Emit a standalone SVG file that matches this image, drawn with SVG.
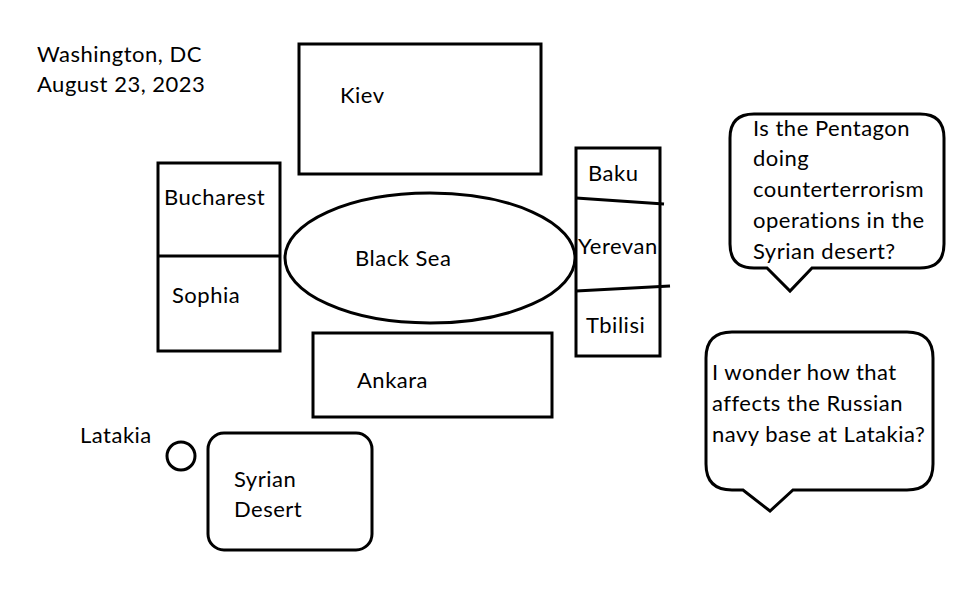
<svg xmlns="http://www.w3.org/2000/svg" width="966" height="608" viewBox="0 0 966 608">
<style>
.s{fill:#fff;stroke:#000;stroke-width:3}
.l{fill:none;stroke:#000;stroke-width:3}
text{font-family:Lato,"Liberation Sans",sans-serif;font-size:22px;letter-spacing:0.5px;fill:#000}
</style>
<rect width="966" height="608" fill="#fff"/>
<g id="title"><text x="37" y="62">Washington, DC</text><text x="37" y="92">August 23, 2023</text></g>
<g id="kiev"><rect class="s" x="299" y="44" width="242" height="130"/><text x="340" y="103">Kiev</text></g>
<g id="bucharest-sophia"><rect class="s" x="158" y="163" width="122" height="188"/><line class="l" x1="158" y1="256" x2="280" y2="256"/><text x="164" y="205">Bucharest</text><text x="172" y="303">Sophia</text></g>
<g id="black-sea"><ellipse class="s" cx="430" cy="258" rx="145" ry="65"/><text x="355" y="266">Black Sea</text></g>
<g id="caucasus"><rect class="s" x="576" y="148" width="84" height="208"/><line class="l" x1="576" y1="198" x2="664" y2="204"/><line class="l" x1="576" y1="291" x2="670" y2="286"/><text x="588" y="181">Baku</text><text x="578" y="254">Yerevan</text><text x="586" y="333">Tbilisi</text></g>
<g id="ankara"><rect class="s" x="313" y="333" width="239" height="84"/><text x="357" y="388">Ankara</text></g>
<g id="latakia"><circle class="s" cx="181" cy="456" r="14"/><text x="80" y="443">Latakia</text></g>
<g id="syrian-desert"><rect class="s" x="208" y="433" width="164" height="117" rx="16"/><text x="234" y="487">Syrian</text><text x="234" y="517">Desert</text></g>
<g id="bubble1"><path class="s" d="M754,114 H920 Q944,114 944,138 V244 Q944,268 920,268 H812 L790,291 L767,268 H754 Q730,268 730,244 V138 Q730,114 754,114 Z"/>
<text x="753" y="136">Is the Pentagon</text><text x="753" y="166">doing</text><text x="753" y="197">counterterrorism</text><text x="753" y="228">operations in the</text><text x="753" y="259">Syrian desert?</text></g>
<g id="bubble2"><path class="s" d="M732,332 H907 Q933,332 933,358 V464 Q933,490 907,490 H793 L770,511 L743,490 H732 Q706,490 706,464 V358 Q706,332 732,332 Z"/>
<text x="712" y="380">I wonder how that</text><text x="712" y="411">affects the Russian</text><text x="712" y="442">navy base at Latakia?</text></g>
<g id="connectors"/>
</svg>
